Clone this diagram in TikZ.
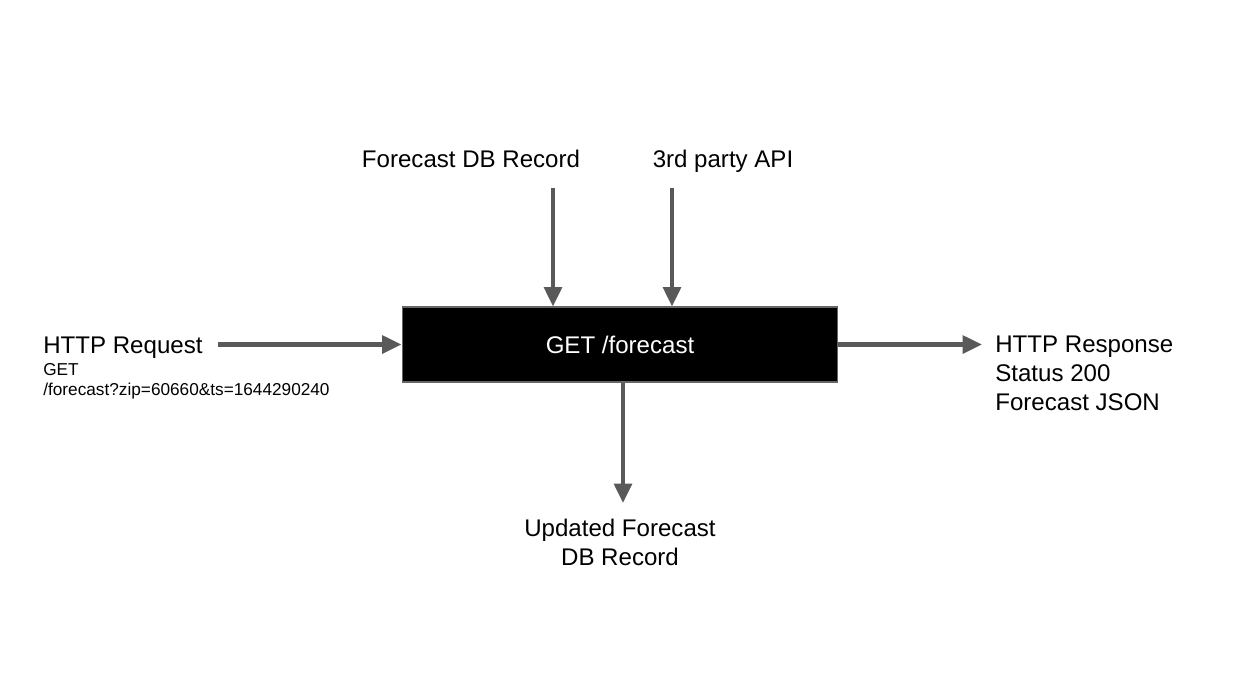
\documentclass[tikz,border=0pt]{standalone}
\usepackage{fontspec}
\setmainfont{Liberation Sans}
\usetikzlibrary{arrows.meta,positioning}
\definecolor{flowgray}{HTML}{595959}
\tikzset{
  flow/.style={draw=flowgray, line width=2.3pt, -{Triangle[length=11pt,width=10pt]}},
  bigtext/.style={font=\fontsize{13.7}{16.4}\selectfont, inner sep=0pt},
  smalltext/.style={font=\fontsize{9.8}{11.4}\selectfont, inner sep=0pt},
  endpointbox/.style={fill=black, draw=black!60, line width=0.6pt, text=white,
    minimum width=8.72cm, minimum height=1.5cm, font=\fontsize{13.7}{16.4}\selectfont}
}

\begin{document}
\begin{tikzpicture}[x=0.02cm, y=-0.02cm]
			%%%%% FRAME %%%%%
			\useasboundingbox (0,0) rectangle (1241,691);
			
			%%%%% NODES %%%%%
			\node[endpointbox] (endpoint) at (620,344.5) {GET /forecast};
			
			\node[bigtext, anchor=base west] (req) at (43,353) {HTTP Request};
			\node[smalltext, anchor=base west] (reqget) at (43,375) {GET};
			\node[smalltext, anchor=base west] (reqpath) at (43,395) {/forecast?zip=60660\&ts=1644290240};
			
			\node[bigtext, anchor=base] (dbrec) at (471,167) {Forecast DB Record};
			\node[bigtext, anchor=base] (thirdapi) at (723,167) {3rd party API};
			
			% base of a multi-line node is its last line
			\node[bigtext, anchor=base west, align=left] (resp) at (995,410) {HTTP Response\\Status 200\\Forecast JSON};
			\node[bigtext, anchor=base, align=center] (updrec) at (620,565) {Updated Forecast\\DB Record};
			
			%%%%% ARROWS %%%%%
			\coordinate (reqtap) at (218,344.5);
			\coordinate (dbtap) at (553,188);
			\coordinate (apitap) at (672,188);
			\coordinate (updtap) at (623,503);
			\coordinate (resptap) at (982,344.5);
			
			\draw[flow] (reqtap) -- (endpoint.west);
			\draw[flow] (dbtap) -- (dbtap |- endpoint.north);
			\draw[flow] (apitap) -- (apitap |- endpoint.north);
			\draw[flow] (updtap |- endpoint.south) -- (updtap);
			\draw[flow] (endpoint.east) -- (resptap);
			
			%%%%% END %%%%%
\end{tikzpicture}
\end{document}
